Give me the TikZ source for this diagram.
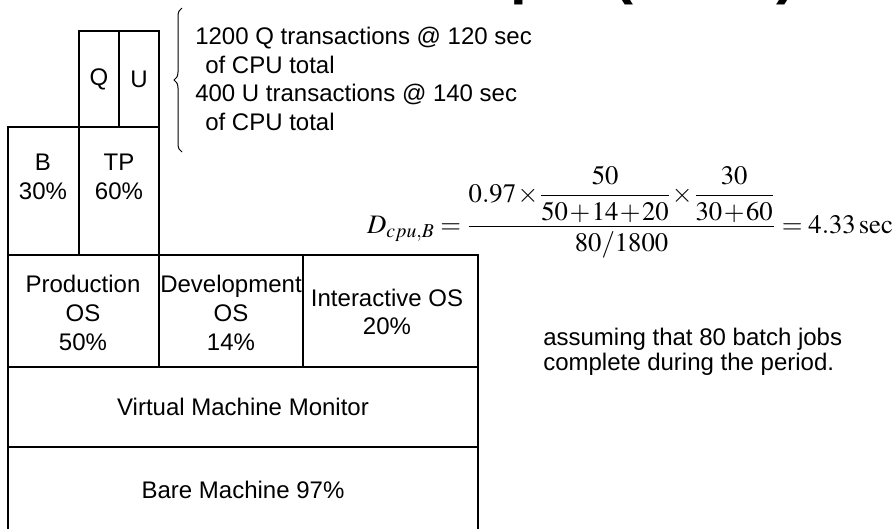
\documentclass[tikz,border=0pt]{standalone}
\usepackage{amsmath}
\usepackage{mathptmx}
\usepackage[no-math]{fontspec}
\setmainfont{Liberation Sans}
\usetikzlibrary{decorations.pathreplacing}

\begin{document}
\begin{tikzpicture}[x=0.75pt, y=-0.75pt,
        every node/.style={inner sep=0pt, font=\fontsize{18}{21.6}\selectfont},
        cell/.style={align=center},
        layer/.style={line width=1.5pt}]
        \useasboundingbox (0,0) rectangle (894,529);
        \clip (0,0) rectangle (894,529);

        % Title (cut off at the top)
        \node[anchor=base west, font=\fontsize{45}{54}\selectfont\bfseries] (title) at (350,-8) {Example (cont.)};

        % Q and U transactions
        \draw[layer] (79,31) rectangle (159,127);
        \draw[layer] (119,31) -- (119,127);
        \node[cell] (Q) at (99,79) {Q};
        \node[cell] (U) at (139,79) {U};

        % Batch and TP
        \draw[layer] (8,127) rectangle (159,255);
        \draw[layer] (79,127) -- (79,255);
        \node[cell] (B) at (43,177) {B\\30\%};
        \node[cell] (TP) at (119,177) {TP\\60\%};

        % Operating systems, monitor and bare machine
        \foreach \top/\bot in {255/367, 367/447, 447/540} {
            \draw[layer] (8,\top) rectangle (478,\bot);
        }
        \foreach \x in {159, 303} {
            \draw[layer] (\x,255) -- (\x,367);
        }
        \node[cell] (ProdOS) at (83,313) {Production\\OS\\50\%};
        \node[cell] (DevOS) at (231,313) {Development\\OS\\14\%};
        \node[cell] (IntOS) at (387,312) {Interactive OS\\20\%};
        \node[cell] (VMM) at (243,407) {Virtual Machine Monitor};
        \node[cell] (Bare) at (243,490) {Bare Machine 97\%};

        % Transactions brace
        \coordinate (brt) at (182,8);
        \coordinate (brb) at (182,152);
        \draw[decorate, decoration={brace, amplitude=6pt}, line width=0.75pt] (brb) -- (brt);
        \node[anchor=west, align=left] (trans) at (195,79) {1200 Q transactions @ 120 sec\\\hspace{7.5pt}of CPU total\\400 U transactions @ 140 sec\\\hspace{7.5pt}of CPU total};

        % Demand of batch jobs
        \node[font=\fontsize{20}{24}\selectfont] (Dcpu) at (630,212)
            {\medmuskip=1mu $\displaystyle D_{cpu,B}=\frac{0.97\times\dfrac{50}{50+14+20}\times\dfrac{30}{30+60}}{80/1800}=4.33\,\mathrm{sec}$};
        \node[anchor=west, align=left, font=\fontsize{18}{18.75}\selectfont] (assume) at (543,352) {assuming that 80 batch jobs\\complete during the period.};
    \end{tikzpicture}
\end{document}
